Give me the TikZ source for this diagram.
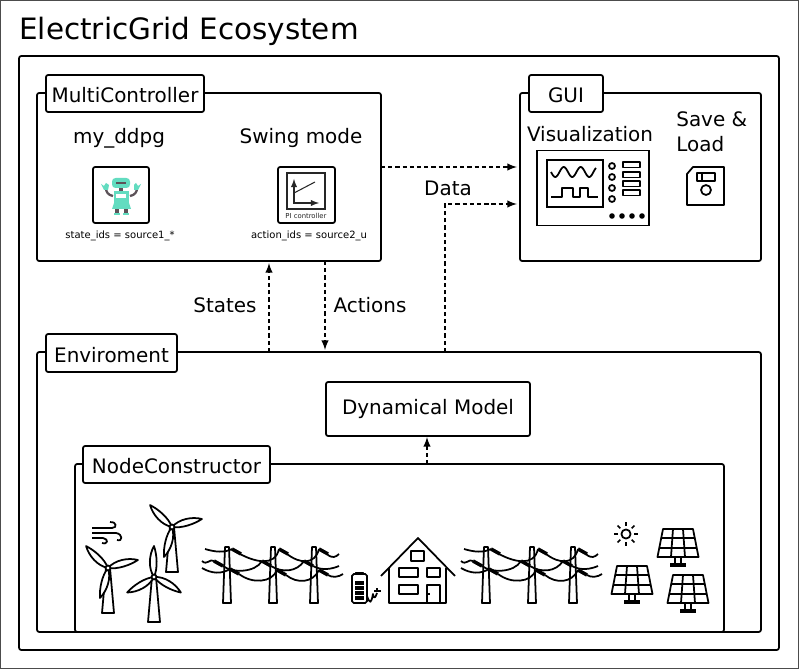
\documentclass[tikz,border=0pt]{standalone}
\usepackage{xcolor}
\usepackage{fontspec}
\setmainfont{DejaVu Sans}
\usepackage{tikz}
\usetikzlibrary{calc}

\definecolor{robotteal}{HTML}{62DCC0}
\definecolor{robotgray}{HTML}{5C5258}

\tikzset{
    icon/.style = {line width=1pt, line join=round},
    pics/turbine/.style = {code={
        \draw[icon, fill=white] (-2,0) -- (-6,-45) -- (6,-45) -- (2,0) -- cycle;
        \foreach \ang in {#1, #1+120, #1+240} {
            \draw[icon, fill=white, rotate=\ang] (0,0) .. controls (9,6) and (22,5) .. (31,0) .. controls (22,-3) and (9,-4) .. (0,0);
        }
        \draw[icon, fill=white] (0,0) circle (2.5);
    }},
    pics/powerline/.style = {code={
        % poles
        \foreach \px in {0,46,87} {
            \draw[icon] (\px-2,0) -- (\px-4,-56) -- (\px+4,-56) -- (\px+2,0) -- cycle;
        }
        % insulators
        \foreach \ix/\iy in {5/-2,52/-2,92/-2,-13/-14,35/-14,77/-14,3/-22,50/-23,92/-23} {
            \draw[line width=2pt] (\ix,\iy) -- ++(9,-5);
        }
        % wires
        \draw[icon] (-22,-2) .. controls (-12,-5) and (-3,-6) .. (5,-2);
        \draw[icon] (13,-7) .. controls (28,-15) and (48,-20) .. (52,-2);
        \draw[icon] (60,-7) .. controls (73,-17) and (88,-18) .. (92,-2);
        \draw[icon] (100,-7) .. controls (105,-12) and (109,-10) .. (112,-7);
        \draw[icon] (-25,-14) .. controls (-20,-19) and (-17,-11) .. (-13,-14);
        \draw[icon] (-4,-19) .. controls (5,-26) and (28,-26) .. (35,-14);
        \draw[icon] (44,-19) .. controls (55,-26) and (70,-25) .. (77,-14);
        \draw[icon] (86,-19) .. controls (95,-24) and (105,-22) .. (112,-19);
        \draw[icon] (-25,-21) .. controls (-15,-27) and (-5,-27) .. (3,-22);
        \draw[icon] (12,-27) .. controls (25,-37) and (45,-36) .. (50,-23);
        \draw[icon] (59,-28) .. controls (70,-37) and (86,-36) .. (92,-23);
        \draw[icon] (101,-28) .. controls (105,-31) and (112,-30) .. (116,-27);
    }},
    pics/panel/.style = {code={
        \draw[icon] (-15,0) -- (15,0) -- (20.5,-28) -- (-20.5,-28) -- cycle;
        \draw[icon] (-5,0) -- (-7,-28) (5,0) -- (7,-28);
        \draw[icon] (-16.8,-9) -- (16.8,-9) (-18.6,-19) -- (18.6,-19);
        \draw[icon] (-3,-28) -- (-3,-35) (3,-28) -- (3,-35);
        \draw[line width=1.8pt] (-8,-36) -- (8,-36);
    }},
    pics/battery/.style = {code={
        \draw[icon, rounded corners=1] (0,0) rectangle (15,-29);
        \draw[icon] (4,0) -- (4,1.5) -- (11,1.5) -- (11,0);
        \foreach \by in {-9,-14,-19,-24} {
            \draw[line width=2pt] (3,\by) -- (12,\by);
        }
        \draw[icon] (15,-22) .. controls (18,-30) and (19,-30) .. (21,-20) .. controls (22,-27) and (24,-22) .. (25,-19);
        \draw[line width=1.6pt] (22,-17) -- (29,-17);
        \draw[icon] (25,-17) -- (25,-14);
    }}
}

\begin{document}
\begin{tikzpicture}[
        x=0.02cm, y=0.02cm,
        box/.style = {draw, rectangle, fill=white, rounded corners=1.2pt, line width=1pt, inner sep=0pt, outer sep=0pt},
        tab/.style = {box, font=\fontsize{11.35}{14}\selectfont, text height=10.8pt, text depth=0pt},
        label/.style = {inner sep=0pt, font=\fontsize{11.35}{14}\selectfont},
        small/.style = {inner sep=0pt, font=\fontsize{5.7}{7}\selectfont},
        arrow/.style = {-latex, line width=0.9pt, dash pattern=on 2.4pt off 1.7pt}
    ]
    \useasboundingbox (0,0) rectangle (799,-669);

    % Outer frame and title
    \node[draw=black!70, line width=0.6pt, rectangle, inner sep=0pt, outer sep=0pt, minimum width=15.96cm, minimum height=13.36cm] (frame) at (399.5,-334.5) {};
    \node[anchor=west, inner sep=0pt, font=\fontsize{16.75}{20}\selectfont] (title) at (19,-31.5) {ElectricGrid Ecosystem};
    \node[box, minimum width=15.2cm, minimum height=11.88cm] (eco) at (399,-353) {};

    % MultiController
    \node[box, minimum width=6.88cm, minimum height=3.36cm] (multi) at (209,-177) {};
    \node[tab, minimum width=3.16cm, minimum height=0.74cm] (multitab) at (125,-93.5) {MultiController};
    \node[label] (ddpg) at (119,-138) {my\_ddpg};
    \node[label] (swing) at (301,-138) {Swing mode};
    \node[box, minimum width=1.12cm, minimum height=1.12cm] (robotbox) at (121,-195) {};
    \node[box, minimum width=1.14cm, minimum height=1.12cm] (pibox) at (306.5,-195) {};
    \node[small] (stateids) at (120,-236) {state\_ids = source1\_*};
    \node[small] (actionids) at (309,-236) {action\_ids = source2\_u};

    % Robot
    \draw[robotgray, line width=1.3pt] (113,-196) .. controls (108,-195) and (106,-192) .. (106,-188);
    \draw[robotgray, line width=1.3pt] (130,-196) .. controls (135,-195) and (137,-192) .. (137,-188);
    \fill[robotteal] (101,-184) -- (104,-186) -- (106,-183) -- (109,-185) -- (108,-190) -- (104,-190) -- cycle;
    \fill[robotteal] (141,-184) -- (138,-186) -- (136,-183) -- (134,-185) -- (134,-190) -- (138,-190) -- cycle;
    \fill[robotteal, rounded corners=2pt] (112,-178) rectangle (130,-188);
    \fill[robotgray] (116,-182) rectangle (126,-184.5);
    \fill[robotgray] (119,-188) rectangle (123,-191);
    \fill[robotteal] (114,-191) rectangle (129,-203);
    \fill[robotteal] (114,-203) -- (129,-203) -- (131,-209) -- (112,-209) -- cycle;
    \fill[white] (116,-194) rectangle (126,-198);
    \fill[robotgray] (115,-209) rectangle (119,-213);
    \fill[robotgray] (124,-209) rectangle (128,-213);
    \fill[robotteal] (114,-213) rectangle (120,-215);
    \fill[robotteal] (123,-213) rectangle (129,-215);

    % PI controller icon
    \draw[black!85, line width=0.8pt] (287,-173) rectangle (325,-209);
    \draw[black!85, line width=0.6pt, latex-latex] (294,-179) -- (294,-203) -- (319,-203);
    \draw[black!85, line width=0.6pt] (294,-193) -- (315,-182);
    \node[inner sep=0pt, black!85, font=\fontsize{3.9}{4}\selectfont] (pilabel) at (306,-216) {PI controller};

    % GUI
    \node[box, minimum width=4.82cm, minimum height=3.36cm] (gui) at (640.5,-177) {};
    \node[tab, minimum width=1.48cm, minimum height=0.74cm] (guitab) at (566,-93.5) {GUI};
    \node[label] (vis) at (590,-134) {Visualization};
    \node[label, anchor=west, align=left, font=\fontsize{11.35}{14.1}\selectfont] (save) at (676,-131.5) {Save \&\\Load};

    % Oscilloscope
    \node[draw, rectangle, line width=1pt, inner sep=0pt, outer sep=0pt, minimum width=2.24cm, minimum height=1.5cm] (scope) at (593,-188) {};
    \node[draw, rectangle, line width=1pt, inner sep=0pt, outer sep=0pt, minimum width=1.12cm, minimum height=0.94cm] (screen) at (575,-183.5) {};
    \draw[icon] plot[domain=0:45, samples=70, smooth] ({551+\x}, {-172+5*sin(21.2*\x+180)});
    \draw[icon] (551,-197) -- (562,-197) -- (562,-188) -- (573,-188) -- (573,-197) -- (580,-197) -- (580,-188) -- (588,-188) -- (588,-197) -- (598,-197);
    \foreach \ky in {166,177,188,199} {
        \draw[icon] (612,-\ky) circle (3);
    }
    \foreach \ky in {162,172,181,190} {
        \draw[icon] (623,-\ky) rectangle (640,-\ky-5.5);
    }
    \foreach \kx in {612,622,632,642} {
        \fill (\kx,-216) circle (2.8);
    }

    % Floppy disk
    \draw[line width=1pt, line join=round] (687,-174) -- (693,-167) -- (724,-167) -- (724,-205) -- (687,-205) -- cycle;
    \draw[icon] (697,-173) rectangle (715,-181);
    \draw[icon] (702,-173) -- (702,-181);
    \draw[icon] (706,-190) circle (5);

    % Enviroment
    \node[box, minimum width=14.48cm, minimum height=5.6cm] (env) at (399,-492) {};
    \node[tab, minimum width=2.62cm, minimum height=0.76cm] (envtab) at (111.5,-353) {Enviroment};
    \node[box, font=\fontsize{11.35}{14}\selectfont, minimum width=4.08cm, minimum height=1.08cm] (dyn) at (428,-409) {Dynamical Model};

    % NodeConstructor
    \node[box, minimum width=12.98cm, minimum height=3.36cm] (nodecon) at (399.5,-548) {};
    \node[tab, minimum width=3.74cm, minimum height=0.74cm] (nodetab) at (176.5,-464.5) {NodeConstructor};

    % Wind
    \draw[icon] (92,-528) -- (112,-528) .. controls (118,-528) and (116,-521) .. (110,-522);
    \draw[icon] (92,-533) -- (116,-533) .. controls (123,-534) and (123,-542) .. (117,-540);
    \draw[icon] (92,-538) -- (103,-538) .. controls (109,-539) and (108,-545) .. (102,-543);

    % Turbines
    \pic at (172,-527) {turbine=15};
    \pic at (108,-568) {turbine=15};
    \pic at (154,-577) {turbine=-30};

    % Power lines
    \pic at (227,-547) {powerline};
    \pic at (486,-547) {powerline};

    % Battery
    \pic at (352,-574) {battery};

    % House
    \draw[icon] (381,-576) -- (418,-538) -- (455,-576);
    \draw[icon] (389,-568) -- (389,-603) -- (446,-603) -- (446,-568);
    \draw[icon] (411,-551) rectangle (424,-561);
    \draw[icon] (399,-568) rectangle (418,-577);
    \draw[icon] (427,-568) rectangle (440,-577);
    \draw[icon] (399,-585) rectangle (418,-594);
    \draw[icon] (427,-603) -- (427,-585) -- (440,-585) -- (440,-603);
    \draw[icon] (428,-594) -- (430,-594);

    % Sun
    \draw[icon] (626,-534) circle (4.6);
    \foreach \ang in {0,45,...,315} {
        \draw[icon] (626,-534) ++(\ang:8) -- ++(\ang:4);
    }

    % Solar panels
    \pic at (678,-529) {panel};
    \pic at (632,-566) {panel};
    \pic at (688,-575) {panel};

    % Connector ends
    \coordinate (multiout) at (multi.east |- 0,-167);
    \coordinate (guiin) at (517,-167);
    \coordinate (guidata) at (517,-204);
    \coordinate (envdata) at (445,-352);
    \coordinate (envstates) at (269,-352);
    \coordinate (multistates) at (269,-263);
    \coordinate (multiactions) at (325,-261);
    \coordinate (envactions) at (325,-350);
    \coordinate (nodeout) at (427,-464);
    \coordinate (dynin) at (427,-437);

    % Draw arrows
    \draw[arrow] (multiout) -- (guiin);
    \draw[arrow] (envdata) |- (guidata);
    \draw[arrow] (envstates) -- (multistates);
    \draw[arrow] (multiactions) -- (envactions);
    \draw[arrow] (nodeout) -- (dynin);

    % Add labels to arrows
    \node[label] (datalabel) at (448,-188) {Data};
    \node[label] (stateslabel) at (225,-305) {States};
    \node[label] (actionslabel) at (370,-305) {Actions};

\end{tikzpicture}
\end{document}
